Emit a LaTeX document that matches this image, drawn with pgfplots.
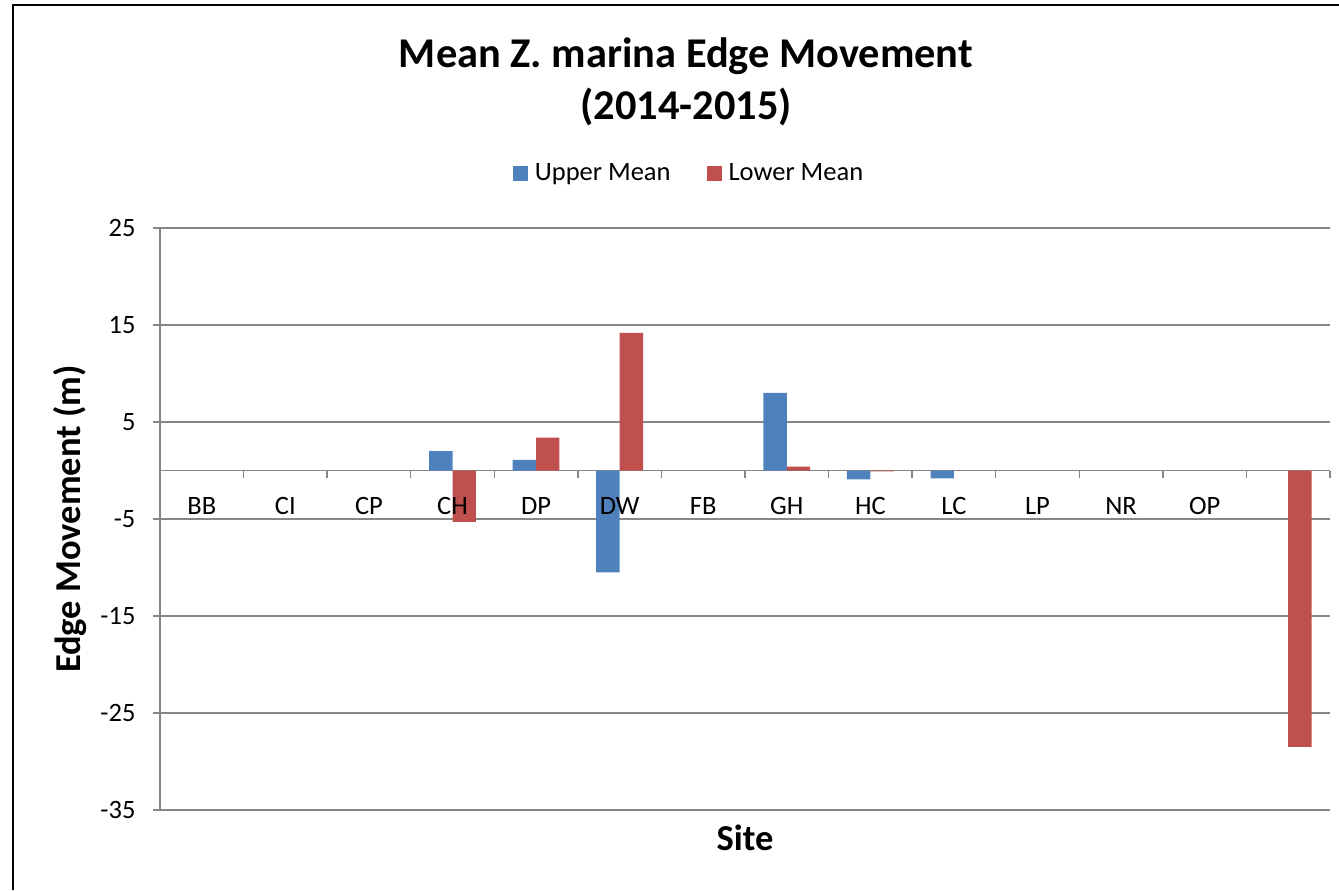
\documentclass[border=0pt]{standalone}
\usepackage{pgfplots}
\pgfplotsset{compat=1.18}
\usepackage{pgfplotstable}
\usepackage{fontspec}
\setmainfont{Carlito}
\definecolor{exblue}{RGB}{79,129,189}
\definecolor{exred}{RGB}{192,80,77}
\definecolor{exgray}{RGB}{134,134,134}
\pgfplotsset{
  layers/labelsontop/.define layer set={
    axis background,axis grid,axis ticks,axis lines,pre main,main,axis tick labels,axis descriptions,axis foreground
  }{
    grid style={/pgfplots/on layer=axis grid},
    tick style={/pgfplots/on layer=axis ticks},
    axis line style={/pgfplots/on layer=axis lines},
    label style={/pgfplots/on layer=axis descriptions},
    legend style={/pgfplots/on layer=axis descriptions},
    title style={/pgfplots/on layer=axis descriptions},
    colorbar style={/pgfplots/on layer=axis descriptions},
    ticklabel style={/pgfplots/on layer=axis tick labels},
    axis background@ style={/pgfplots/on layer=axis background},
    3d box foreground style={/pgfplots/on layer=axis foreground},
  },
}
\pgfplotstableread{
x upper lower
0 0 0
1 0 0
2 0 0
3 2.0 -5.3
4 1.1 3.4
5 -10.5 14.2
6 0 0
7 8.0 0.4
8 -0.9 -0.1
9 -0.8 0
10 0 0
11 0 0
12 0 0
13 0 -28.5
}\datatable
\begin{document}
\begin{tikzpicture}
\draw[line width=1pt] (6.5pt,-445pt) -- (6.5pt,-2.5pt) -- (669.5pt,-2.5pt);
\node[font=\fontsize{21.2}{26}\selectfont\bfseries, align=center] at (343pt,-41pt) {Mean Z. marina Edge Movement\\(2014-2015)};
\begin{axis}[
  set layers=labelsontop,
  clip=false,
  scale only axis, width=585pt, height=291pt,
  at={(80pt,-405pt)}, anchor=south west,
  xmin=-0.5, xmax=13.5, ymin=-35, ymax=25,
  axis x line=middle, axis y line=left,
  axis line style={exgray, line width=0.75pt, -},
  ytick={-35,-25,...,25}, ymajorgrids,
  grid style={exgray, line width=0.75pt},
  xtick={-0.5,0.5,...,13.5}, x tick label as interval,
  xticklabels={BB,CI,CP,CH,DP,DW,FB,GH,HC,LC,LP,NR,OP,{}},
  hide obscured x ticks=false, hide obscured y ticks=false,
  tick align=outside, major tick length=3.75pt,
  tick style={exgray, line width=0.75pt},
  ticklabel style={font=\fontsize{13.25}{16}\selectfont, text=black},
  /pgf/number format/assume math mode=true,
  yticklabel style={xshift=-5pt},
  xticklabel style={yshift=-6pt},
  ybar=0pt, bar width=11.7pt,
  legend columns=2,
  legend style={draw=none, at={(0.453,1.0945)}, anchor=center,
    font=\fontsize{13.25}{16}\selectfont,
    /tikz/every odd column/.append style={column sep=1.5pt},
    /tikz/every even column/.append style={column sep=16pt}},
]
\addplot[fill=exblue, draw=none, legend image code/.code={\fill[exblue] (0pt,-3.75pt) rectangle (7.5pt,3.75pt);}] table[x=x, y=upper] {\datatable};
\addlegendentry{Upper Mean}
\addplot[fill=exred, draw=none, legend image code/.code={\fill[exred] (0pt,-3.75pt) rectangle (7.5pt,3.75pt);}] table[x=x, y=lower] {\datatable};
\addlegendentry{Lower Mean}
\node[font=\fontsize{18.25}{22}\selectfont\bfseries, anchor=center] at ([yshift=-14pt]rel axis cs:0.5,0) {Site};
\node[font=\fontsize{18.25}{22}\selectfont\bfseries, rotate=90, anchor=center] at ([xshift=-45pt]rel axis cs:0,0.5) {Edge Movement (m)};
\end{axis}
\pgfresetboundingbox
\useasboundingbox (0,0) rectangle (669.5pt,-445pt);
\end{tikzpicture}
\end{document}
